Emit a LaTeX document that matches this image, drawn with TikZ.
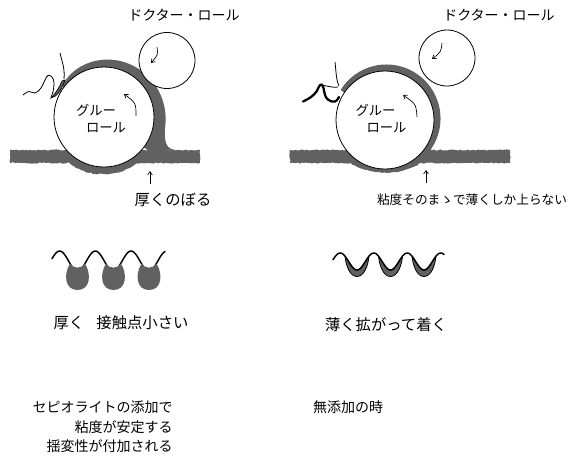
\documentclass[tikz,border=0pt]{standalone}
\usepackage{fontspec}
\newfontfamily\jpfont{Noto Sans CJK JP}
\usetikzlibrary{arrows.meta,decorations.pathmorphing}
\begin{document}
\begin{tikzpicture}[x=0.75pt,y=-0.75pt,
  coat/.style={fill=black!62},
  roll/.style={draw=black,line width=0.6pt,fill=white},
  rough/.style={decorate,decoration={random steps,segment length=1.5pt,amplitude=0.45pt}},
  spin/.style={line width=0.5pt,-{Straight Barb[length=2.5pt,width=3.5pt]}},
  lbl/.style={inner sep=0pt,font=\jpfont\fontsize{10.5}{12}\selectfont},
  small/.style={inner sep=0pt,font=\jpfont\fontsize{10}{12}\selectfont},
  big/.style={inner sep=0pt,font=\jpfont\fontsize{11.5}{13}\selectfont},
  strand/.style={line width=0.6pt},
  wave/.style={line width=1.1pt,line cap=round}]
\useasboundingbox (0,0) rectangle (580,458);

% ---------- left: glue roll with thick coat ----------
\fill[coat] (104,117)
  -- plot[domain=216:370,samples=70]
     ({104+(50.5+11.5*sqrt(abs((\x-216)/154)))*cos(\x)},
      {117+(50.5+11.5*sqrt(abs((\x-216)/154)))*sin(\x)})
  .. controls (164,142) and (166,150) .. (177,150) -- (150,152) -- cycle;
\fill[coat,rough] (10,150) rectangle (200,163);
\fill[coat,rough] (66,158) .. controls (78,179) and (126,180) .. (141,158) -- cycle;
\draw[roll] (104,117) circle[radius=50];
\draw[roll] (167,60.5) circle[radius=28];

% sheet peeling off on the left
\draw[strand] plot[smooth,tension=0.7] coordinates
  {(23,95) (29,91.5) (35,93) (41,88) (45,80) (48,75.5) (52,77) (54,83) (53,92) (51,97)};
\draw[strand] (60,53) .. controls (62,62) and (65,68) .. (64,79);
\filldraw[fill=black!62,draw=black,line width=0.5pt]
  (51,98) .. controls (57,97) and (62,89) .. (65,80)
  -- (62,81) .. controls (59,88) and (56,93) .. (51,98) -- cycle;

\coordinate (d1a) at (157,47);  \coordinate (d1b) at (151,63);
\draw[spin] (d1a) .. controls (158,55) .. (d1b);
\coordinate (g1a) at (136,116); \coordinate (g1b) at (124,94);
\draw[spin] (g1a) .. controls (136,103) .. (g1b);
\coordinate (u1a) at (150,184); \coordinate (u1b) at (150,171);
\draw[spin] (u1a) -- (u1b);

\node[lbl] (doc1) at (184,15) {ドクター・ロール};
\node[small] (glue1a) at (96,110) {グルー};
\node[small] (glue1b) at (106,128) {ロール};
\node[big] (note1) at (173,200) {厚くのぼる};

% ---------- right: glue roll with thin coat ----------
\fill[coat] (385,120)
  -- plot[domain=214:500,samples=90]
     ({385+(49+5+1.5*cos(\x)-1.5*sin(\x))*cos(\x)},
      {120+(49+5+1.5*cos(\x)-1.5*sin(\x))*sin(\x)}) -- cycle;
\fill[coat,rough] (290,150) rectangle (510,163);
\fill[coat,rough] (348,160) .. controls (360,176) and (410,177) .. (423,160) -- cycle;
\draw[roll] (385,120) circle[radius=49];
\draw[roll] (447,58) circle[radius=28];

% sheet peeling off on the right
\draw[line width=1.7pt,line cap=round] plot[smooth,tension=0.7] coordinates
  {(303,101.5) (311,97) (316.5,91.5) (320,85) (323,86.5) (325,95) (328.5,100) (335,101.5) (339,97)};
\draw[strand] (321,85) .. controls (328,86) and (333,88) .. (338,87);
\draw[strand] (335,62) .. controls (336,70) and (336,80) .. (339,86);

\coordinate (d2a) at (442,43);  \coordinate (d2b) at (432,59);
\draw[spin] (d2a) .. controls (441,52) .. (d2b);
\coordinate (g2a) at (417,117); \coordinate (g2b) at (403,95);
\draw[spin] (g2a) .. controls (416,104) .. (g2b);
\coordinate (u2a) at (426,183); \coordinate (u2b) at (426,170);
\draw[spin] (u2a) -- (u2b);

\node[lbl] (doc2) at (499,15) {ドクター・ロール};
\node[small] (glue2a) at (375.5,110) {グルー};
\node[small] (glue2b) at (386.5,128) {ロール};
\node[inner sep=0pt,font=\jpfont\fontsize{9.5}{11}\selectfont] (note2) at (472,200)
  {粘度そのまゝで薄くしか上らない};

% ---------- middle left: drops hanging from the surface ----------
\draw[wave] plot[domain=52:165,samples=120] ({\x},{261+10*cos((\x-77.5)/35.7*360)});
\foreach \c in {77.5,113.5,149}{
  \fill[black!62] (\c-7.5,263.5) .. controls (\c-14,274) and (\c-13,290) .. (\c,290)
    .. controls (\c+13,290) and (\c+14,274) .. (\c+7.5,263.5)
    .. controls (\c+4,269) and (\c-4,269) .. cycle;
}
\node[big] (mid1) at (121,323) {厚く\hspace{0.8em}接触点小さい};

% ---------- middle right: thin film spread along the surface ----------
\foreach \c [evaluate=\c as \lo using \c-12, evaluate=\c as \hi using \c+12] in {357,390.5,424}{
  \filldraw[fill=black!62,draw=black,line width=0.6pt]
    plot[domain=\lo:\hi,samples=30] ({\x},{261.5+8.5*cos((\x-\c)/33.5*360)})
    .. controls (\c+11,266) and (\c+7,276.5) .. (\c,276.5)
    .. controls (\c-7,276.5) and (\c-11,266) .. cycle;
}
\draw[wave] plot[domain=333:444,samples=120] ({\x},{261.5+8.5*cos((\x-357)/33.5*360)});
\node[big] (mid2) at (386,325) {薄く拡がって着く};

% ---------- bottom captions ----------
\node[lbl,anchor=east] (cap1) at (173,407) {セピオライトの添加で};
\node[lbl,anchor=east] (cap2) at (173,427) {粘度が安定する};
\node[lbl,anchor=east] (cap3) at (173,446) {揺変性が付加される};
\node[lbl] (cap4) at (348,407) {無添加の時};
\end{tikzpicture}
\end{document}
